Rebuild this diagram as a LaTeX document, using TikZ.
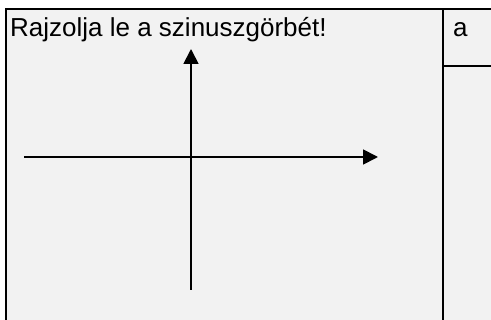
\documentclass[tikz,border=0pt]{standalone}
\usepackage{fontspec}
\setmainfont{Liberation Sans}
\usepackage{xcolor}
\usetikzlibrary{arrows.meta}
\definecolor{cellbg}{HTML}{F2F2F2}

\begin{document}
\begin{tikzpicture}[
  x=1pt, y=-1pt,
  rule/.style ={line width=2pt, black},
  axis/.style ={line width=1.8pt, black, -{Triangle[length=15pt, width=15pt]}},
  txt/.style  ={anchor=base west, inner sep=0pt, font=\fontsize{26}{31}\selectfont}
]
\useasboundingbox (0,0) rectangle (491,320);
% ---------- table cells ----------
\fill[cellbg] (6,9) rectangle (491,320);
\draw[rule] (6,320) -- (6,9) -- (491,9);
\draw[rule] (443,9) -- (443,320);
\draw[rule] (443,66) -- (491,66);
\node[txt] (task) at (10,37) {Rajzolja le a szinuszgörbét!};
\node[txt] (ans)  at (453,37) {a};

% ---------- axes ----------
\coordinate (xl) at (24,157);
\coordinate (xr) at (378,157);
\coordinate (yb) at (191,290);
\coordinate (yt) at (191,49);
\draw[axis] (xl) -- (xr);
\draw[axis] (yb) -- (yt);
\end{tikzpicture}
\end{document}
